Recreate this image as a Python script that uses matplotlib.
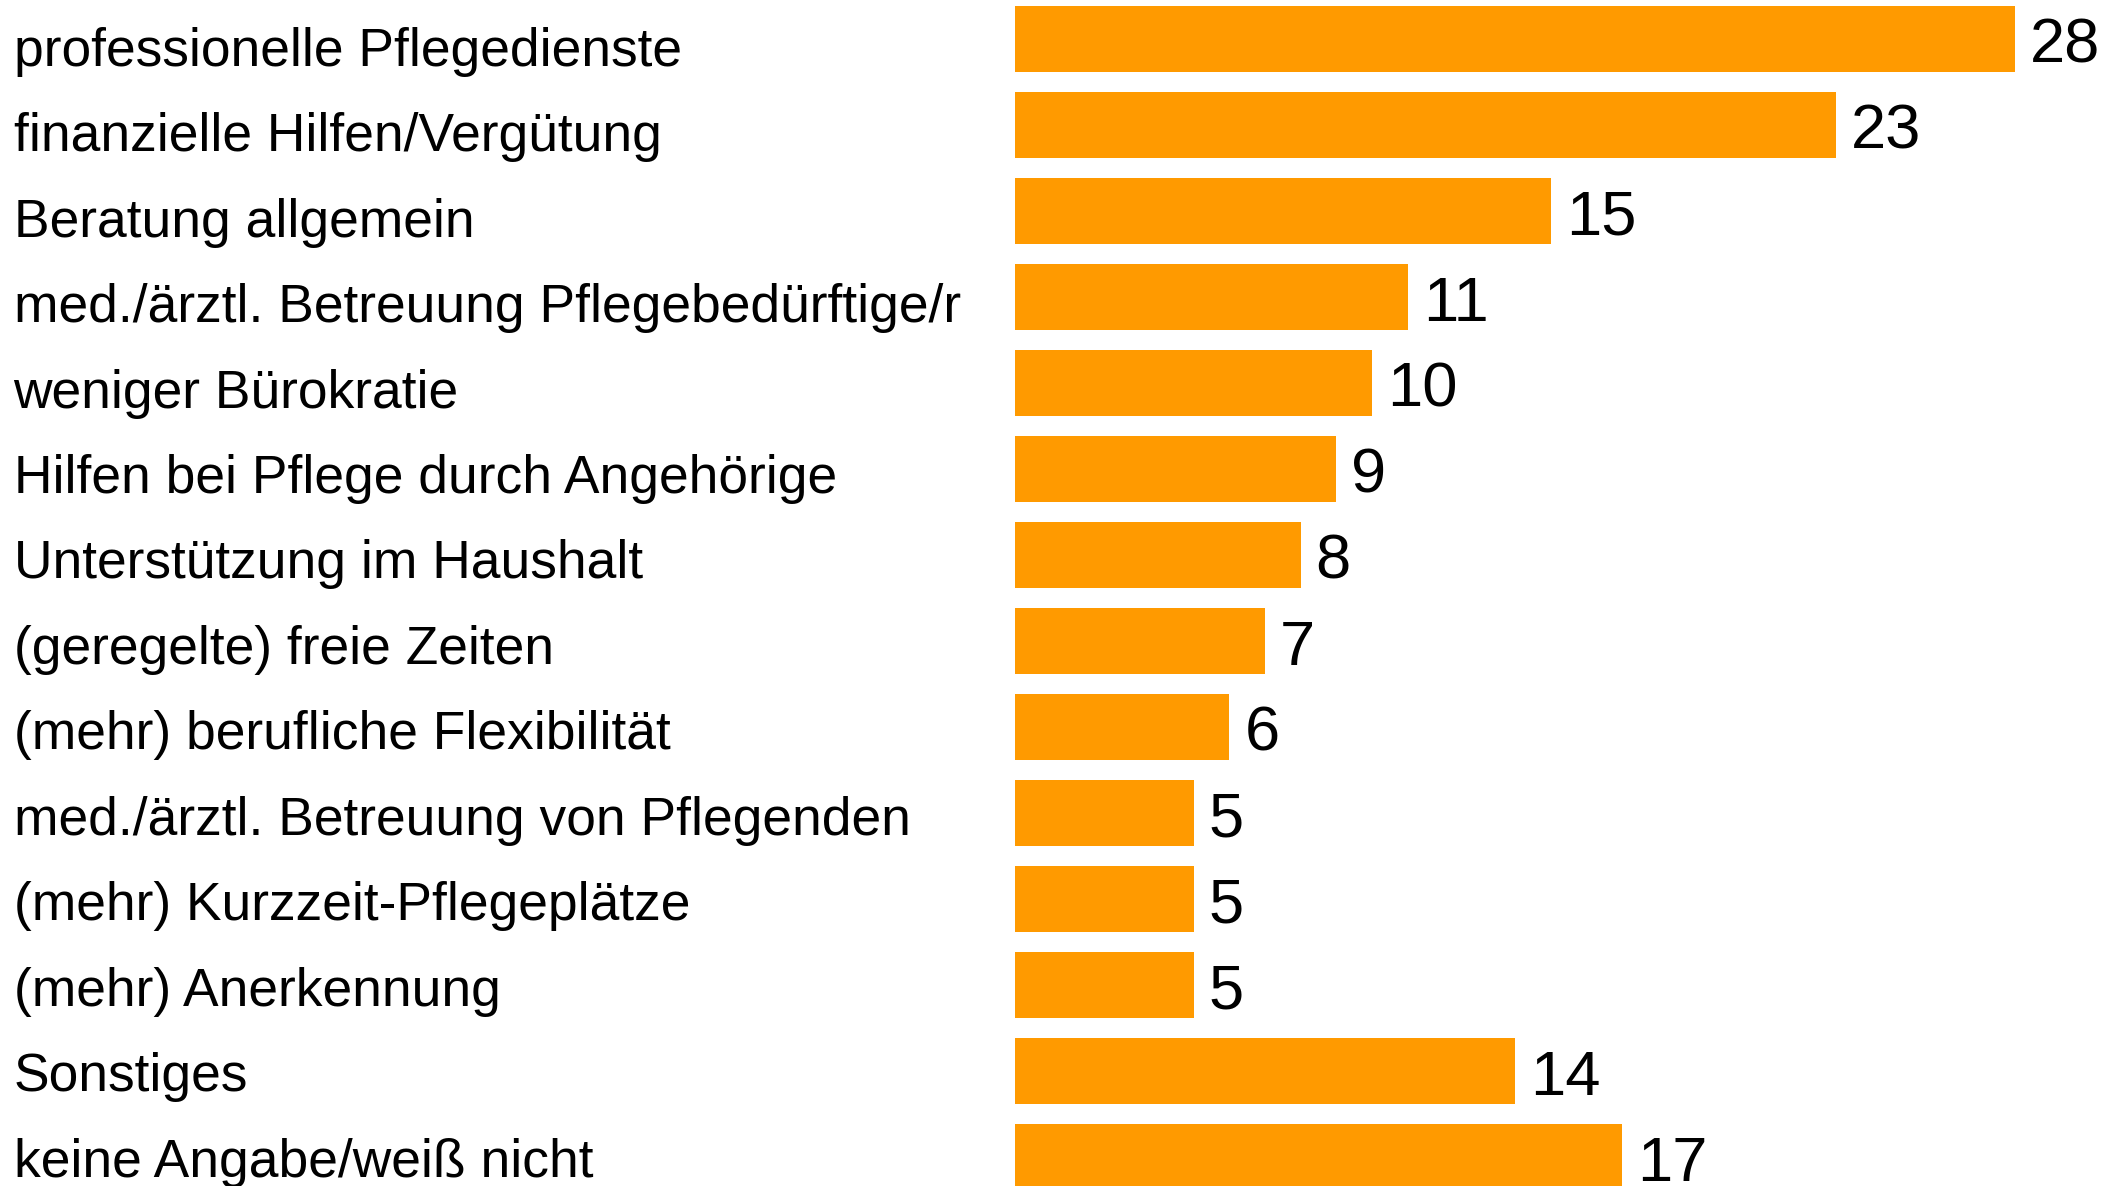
import matplotlib
matplotlib.use("Agg")
import matplotlib.pyplot as plt
from matplotlib.transforms import blended_transform_factory

categories = [
    "professionelle Pflegedienste",
    "finanzielle Hilfen/Vergütung",
    "Beratung allgemein",
    "med./ärztl. Betreuung Pflegebedürftige/r",
    "weniger Bürokratie",
    "Hilfen bei Pflege durch Angehörige",
    "Unterstützung im Haushalt",
    "(geregelte) freie Zeiten",
    "(mehr) berufliche Flexibilität",
    "med./ärztl. Betreuung von Pflegenden",
    "(mehr) Kurzzeit-Pflegeplätze",
    "(mehr) Anerkennung",
    "Sonstiges",
    "keine Angabe/weiß nicht",
]
values = [28, 23, 15, 11, 10, 9, 8, 7, 6, 5, 5, 5, 14, 17]

plt.rcParams['font.family'] = ['Liberation Sans', 'DejaVu Sans']

W, H = 2123, 1186
fig = plt.figure(figsize=(W / 100, H / 100), dpi=100)
left_px = 1015
px_per_unit = 35.71
xmax = 30
ax = fig.add_axes([left_px / W, 0, xmax * px_per_unit / W, 1])

pitch = 86.0
c0 = 39.3
ax.set_ylim((H - c0) / pitch, -c0 / pitch)
ax.set_xlim(0, xmax)

ys = list(range(len(categories)))
ax.barh(ys, values, height=66 / pitch, color='#FF9A00', left=0)

for y, v in zip(ys, values):
    ax.annotate(str(v), xy=(v, y), xytext=(15, -23.5), textcoords='offset pixels',
                ha='left', va='baseline', fontsize=45.5, color='black',
                annotation_clip=False)

tr = blended_transform_factory(fig.transFigure, ax.transData)
for i, (y, c) in enumerate(zip(ys, categories)):
    ax.annotate(c, xy=(13.5 / W, y), xycoords=tr,
                xytext=(0, -(26.5 - 0.55 * i)), textcoords='offset pixels',
                ha='left', va='baseline', fontsize=38.4, color='black',
                annotation_clip=False)

ax.axis('off')
fig.savefig("out.png", dpi=100)
